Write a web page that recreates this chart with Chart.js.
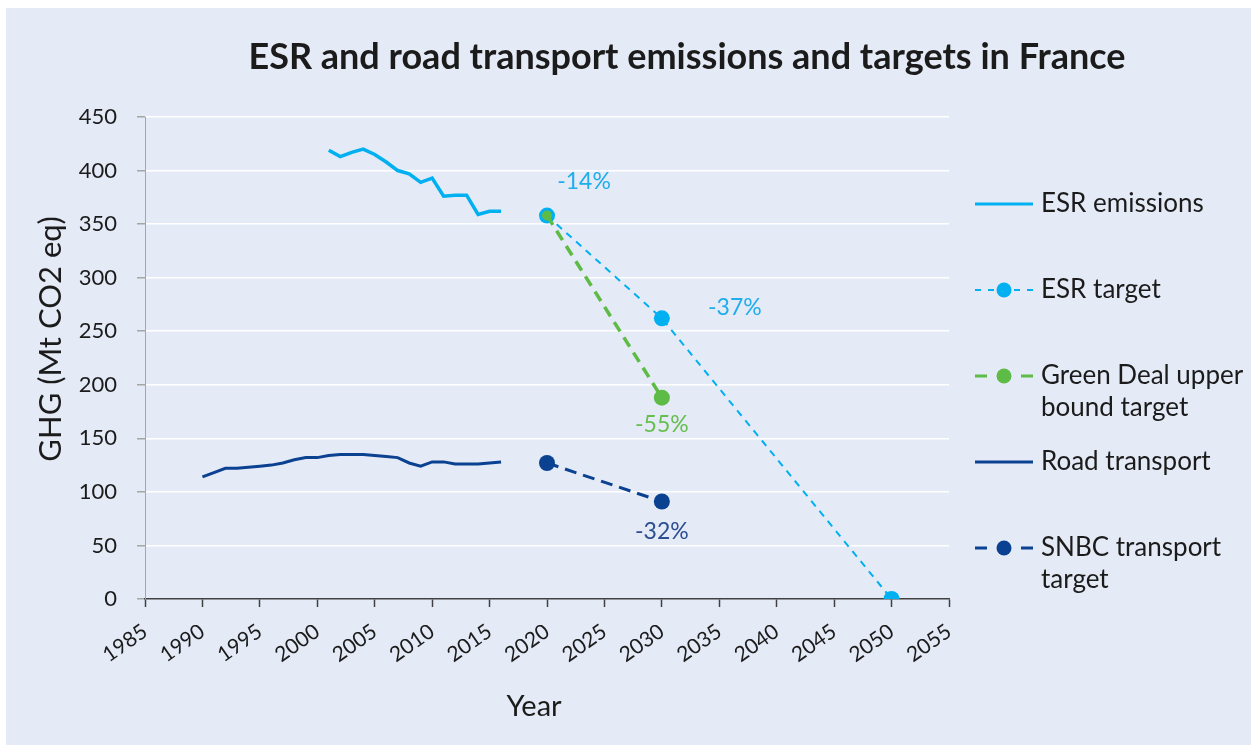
<!DOCTYPE html>
<html>
<head>
<meta charset="utf-8">
<script src="https://cdn.jsdelivr.net/npm/chart.js@4.4.1/dist/chart.umd.min.js"></script>
<style>
  html, body { margin: 0; padding: 0; background: #ffffff; }
  #wrap { width: 1253px; height: 747px; }
</style>
</head>
<body>
<div id="wrap"><canvas id="ghgChart" width="1253" height="747"></canvas></div>
<script>
// ---- data ----
const esrYears = [2001, 2002, 2003, 2004, 2005, 2006, 2007, 2008, 2009, 2010, 2011, 2012, 2013, 2014, 2015, 2016];
const esrEmissions = [419, 413, 417, 420, 415, 408, 400, 397, 389, 393, 376, 377, 377, 359, 362, 362];

const roadYears = [1990, 1991, 1992, 1993, 1994, 1995, 1996, 1997, 1998, 1999, 2000, 2001, 2002, 2003,
                   2004, 2005, 2006, 2007, 2008, 2009, 2010, 2011, 2012, 2013, 2014, 2015, 2016];
const roadEmissions = [114, 118, 122, 122, 123, 124, 125, 127, 130, 132, 132, 134, 135, 135,
                       135, 134, 133, 132, 127, 124, 128, 128, 126, 126, 126, 127, 128];

const esrTargetYears = [2020, 2030, 2050];
const esrTargetValues = [358, 262, 0];

const greenDealYears = [2020, 2030];
const greenDealValues = [358, 188];

const snbcYears = [2020, 2030];
const snbcValues = [127, 91];

const seriesLabels = ['ESR emissions', 'ESR target', 'Green Deal upper bound target', 'Road transport', 'SNBC transport target'];

// percentage notes, each tied to a dataset point
const noteTexts = ['-14%', '-37%', '-55%', '-32%'];
const noteDataset = [1, 1, 2, 4];
const notePoint = [0, 1, 1, 1];

const yTicks = [0, 50, 100, 150, 200, 250, 300, 350, 400, 450];
const xMin = 1985, xMax = 2055;

const chartTitle = 'ESR and road transport emissions and targets in France';
const xTitle = 'Year';
const yTitle = 'GHG (Mt CO2 eq)';

// ---- styling ----
const LIGHT_BLUE = '#00B0F0';
const GREEN = '#5EBB46';
const DARK_BLUE = '#0B4191';
const TEXT = '#1b1b1b';
const FONT = 'Lato, "Open Sans", sans-serif';

const noteColors = ['#1FAEEA', '#1FAEEA', '#66BE4E', '#2B4E93'];
const noteOffsets = [[37, -34], [73, -11], [0, 27], [0, 30]];

function pts(xs, ys) {
    return xs.map((x, i) => ({ x: x, y: ys[i] }));
}

const bgPlugin = {
    id: 'bg',
    beforeDraw(chart) {
        const c = chart.ctx;
        c.save();
        c.fillStyle = '#E4EAF6';
        c.fillRect(6, 8, chart.width - 8, chart.height - 10);
        c.restore();
    }
};

const textPlugin = {
    id: 'texts',
    afterDraw(chart) {
        const c = chart.ctx;
        c.save();

        // title
        c.fillStyle = TEXT;
        c.font = 'bold 36px ' + FONT;
        c.textAlign = 'center';
        c.textBaseline = 'middle';
        c.fillText(chartTitle, 687, 57);

        // axis titles
        c.font = '29px ' + FONT;
        c.fillText(xTitle, 534, 707);
        c.save();
        c.translate(51, 339);
        c.rotate(-Math.PI / 2);
        c.font = '31px ' + FONT;
        c.fillText(yTitle, 0, 0);
        c.restore();

        // percentage notes
        c.font = '23px ' + FONT;
        noteTexts.forEach((t, i) => {
            const el = chart.getDatasetMeta(noteDataset[i]).data[notePoint[i]];
            c.fillStyle = noteColors[i];
            c.fillText(t, el.x + noteOffsets[i][0], el.y + noteOffsets[i][1]);
        });

        // legend
        const lx0 = 975, lx1 = 1033, tx = 1041;
        let ly = 204;
        c.font = '26px ' + FONT;
        c.textAlign = 'left';
        chart.data.datasets.forEach((ds) => {
            c.save();
            c.strokeStyle = ds.borderColor;
            c.lineWidth = ds.legendWidth;
            c.setLineDash(ds.legendDash);
            c.beginPath();
            c.moveTo(lx0, ly);
            c.lineTo(lx1, ly);
            c.stroke();
            c.restore();
            if (ds.showMarker) {
                c.fillStyle = ds.pointBackgroundColor;
                c.beginPath();
                c.arc((lx0 + lx1) / 2, ly, 7.5, 0, Math.PI * 2);
                c.fill();
            }
            // wrap label
            const words = ds.label.split(' ');
            const lines = [];
            let cur = '';
            words.forEach(w => {
                const test = cur ? cur + ' ' + w : w;
                if (c.measureText(test).width > 205 && cur) {
                    lines.push(cur);
                    cur = w;
                } else {
                    cur = test;
                }
            });
            lines.push(cur);
            c.fillStyle = TEXT;
            lines.forEach((ln, k) => c.fillText(ln, tx, ly + k * 32));
            ly += 86;
        });

        c.restore();
    }
};

const ctx = document.getElementById('ghgChart').getContext('2d');
const ghgChart = new Chart(ctx, {
    type: 'line',
    data: {
        datasets: [{
            label: seriesLabels[0],
            data: pts(esrYears, esrEmissions),
            borderColor: LIGHT_BLUE,
            backgroundColor: LIGHT_BLUE,
            borderWidth: 3.5,
            pointRadius: 0,
            tension: 0,
            order: 4,
            legendWidth: 3,
            legendDash: [],
            showMarker: false
        }, {
            label: seriesLabels[1],
            data: pts(esrTargetYears, esrTargetValues),
            borderColor: LIGHT_BLUE,
            backgroundColor: LIGHT_BLUE,
            pointBackgroundColor: LIGHT_BLUE,
            pointBorderWidth: 0,
            borderWidth: 2,
            borderDash: [7, 6],
            pointRadius: 8,
            order: 1,
            legendWidth: 2,
            legendDash: [6, 7],
            showMarker: true
        }, {
            label: seriesLabels[2],
            data: pts(greenDealYears, greenDealValues),
            borderColor: GREEN,
            backgroundColor: GREEN,
            pointBackgroundColor: GREEN,
            pointBorderWidth: 0,
            borderWidth: 3.5,
            borderDash: [11, 7],
            pointRadius: [5, 8],
            order: 0,
            legendWidth: 3,
            legendDash: [12, 34],
            showMarker: true
        }, {
            label: seriesLabels[3],
            data: pts(roadYears, roadEmissions),
            borderColor: DARK_BLUE,
            backgroundColor: DARK_BLUE,
            borderWidth: 3,
            pointRadius: 0,
            order: 3,
            legendWidth: 3,
            legendDash: [],
            showMarker: false
        }, {
            label: seriesLabels[4],
            data: pts(snbcYears, snbcValues),
            borderColor: DARK_BLUE,
            backgroundColor: DARK_BLUE,
            pointBackgroundColor: DARK_BLUE,
            pointBorderWidth: 0,
            borderWidth: 3,
            borderDash: [12, 7],
            pointRadius: 8,
            order: 2,
            legendWidth: 3,
            legendDash: [12, 34],
            showMarker: true
        }]
    },
    options: {
        responsive: false,
        animation: false,
        devicePixelRatio: 1,
        layout: {
            padding: { left: 0, top: 117, right: 304, bottom: 0 }
        },
        plugins: {
            legend: { display: false },
            title: { display: false },
            tooltip: { enabled: false }
        },
        scales: {
            x: {
                type: 'linear',
                min: xMin,
                max: xMax,
                afterFit: function(scale) { scale.height = 148; },
                border: { color: '#404040', width: 1.5 },
                grid: {
                    drawOnChartArea: false,
                    drawTicks: true,
                    tickLength: 8,
                    tickColor: '#404040',
                    tickWidth: 1.5
                },
                ticks: {
                    stepSize: 5,
                    autoSkip: false,
                    minRotation: 35,
                    maxRotation: 35,
                    padding: 12,
                    color: TEXT,
                    font: { family: FONT, size: 21 },
                    callback: function(v) { return String(v); }
                }
            },
            y: {
                min: yTicks[0],
                max: yTicks[yTicks.length - 1],
                afterFit: function(scale) { scale.width = 145; },
                afterBuildTicks: function(scale) { scale.ticks = yTicks.map(v => ({ value: v })); },
                border: { color: '#A6A6A6', width: 1 },
                grid: {
                    color: function(c) { return c.tick && c.tick.value === 0 ? 'rgba(0,0,0,0)' : '#ffffff'; },
                    lineWidth: 1.5,
                    tickColor: '#A6A6A6',
                    tickLength: 8
                },
                ticks: {
                    padding: 20,
                    color: TEXT,
                    font: { family: FONT, size: 22 }
                }
            }
        }
    },
    plugins: [bgPlugin, textPlugin]
});
</script>
</body>
</html>
